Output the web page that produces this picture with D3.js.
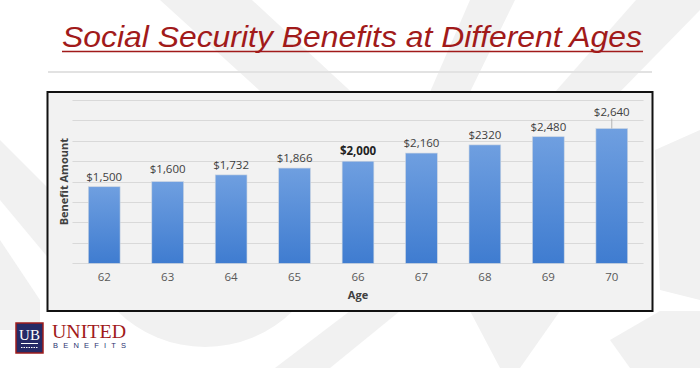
<!DOCTYPE html>
<html><head><meta charset="utf-8">
<script src="https://cdn.jsdelivr.net/npm/d3@7"></script>
<style>
html,body{margin:0;padding:0;background:#fff;}
svg{display:block;}
</style></head>
<body>
<svg id="c" width="700" height="368"></svg>
<script>
const titleText = "Social Security Benefits at Different Ages";
const ages = ["62","63","64","65","66","67","68","69","70"];
const benefits = [1500, 1600, 1732, 1866, 2000, 2160, 2320, 2480, 2640];
const benefitLabels = ["$1,500","$1,600","$1,732","$1,866","$2,000","$2,160","$2320","$2,480","$2,640"];
const highlighted = ["66"];
const yTicks = [0, 400, 800, 1200, 1600, 2000, 2400, 2800, 3200];
const xTitle = "Age";
const yTitle = "Benefit Amount";

const svg = d3.select("#c");
const defs = svg.append("defs");
const grad = defs.append("linearGradient").attr("id","barG").attr("x1",0).attr("y1",0).attr("x2",0).attr("y2",1);
grad.append("stop").attr("offset","0%").attr("stop-color","#6f9fe0");
grad.append("stop").attr("offset","100%").attr("stop-color","#3f7cd0");

// watermark shapes
const wm = svg.append("g").attr("fill","#f1f1f1");
const shapes = [
  [[160,0],[252,0],[360,100],[270,100]],
  [[636,0],[700,0],[700,10],[612,100],[548,100]],
  [[470,0],[515,0],[470,92],[430,92]],
  [[0,140],[0,200],[50,260],[50,190]],
  [[0,240],[40,300],[40,330],[0,330]],
  [[655,150],[700,130],[700,300],[660,290]],
  [[470,311],[560,311],[520,368],[500,368]],
  [[275,368],[350,311],[400,311],[330,368]],
  [[610,340],[660,311],[700,311],[700,368],[630,368]]
];
wm.selectAll("polygon").data(shapes).join("polygon")
  .attr("points", d => d.map(p => p.join(",")).join(" "));
wm.append("path").attr("d", d3.arc()({innerRadius:0, outerRadius:125, startAngle:Math.PI/2, endAngle:Math.PI*1.5}))
  .attr("transform","translate(205,222)");

// title
svg.append("text").attr("x",62).attr("y",47).attr("textLength",580).attr("lengthAdjust","spacingAndGlyphs")
  .attr("font-family","Liberation Sans, Arial, sans-serif").attr("font-style","italic")
  .attr("font-size",29).attr("fill","#a11a1a").text(titleText);
svg.append("line").attr("x1",62).attr("x2",643).attr("y1",51.5).attr("y2",51.5)
  .attr("stroke","#a11a1a").attr("stroke-width",1.6);
svg.append("line").attr("x1",48).attr("x2",652).attr("y1",72).attr("y2",72)
  .attr("stroke","#e2e2e2").attr("stroke-width",2);

// chart box
svg.append("rect").attr("x",47.5).attr("y",92).attr("width",605).attr("height",219)
  .attr("fill","#f2f2f2").attr("stroke","#111").attr("stroke-width",2);

const x = d3.scaleBand().domain(ages).range([72.5, 643.5]).paddingInner(0.5).paddingOuter(0.25);
const y = d3.scaleLinear().domain([0, 3200]).range([263.3, 100]);

// grid
svg.append("g").selectAll("line").data(yTicks).join("line")
  .attr("x1",72.5).attr("x2",643.5)
  .attr("y1", d => Math.round(y(d))+0.5).attr("y2", d => Math.round(y(d))+0.5)
  .attr("stroke","#d9d9d9").attr("stroke-width",1);

// bars
svg.append("g").selectAll("rect").data(ages).join("rect")
  .attr("x", d => x(d)).attr("width", x.bandwidth())
  .attr("y", (d,i) => y(benefits[i])).attr("height", (d,i) => y(0) - y(benefits[i]))
  .attr("fill","url(#barG)").attr("stroke","#c9d3e0").attr("stroke-width",0.6);

// labels
const lastIdx = ages.length - 1;
const lab = svg.append("g").attr("font-family","Open Sans, sans-serif").attr("font-size",11.5).attr("text-anchor","middle");
lab.selectAll("text").data(ages).join("text")
  .attr("x", d => x(d) + x.bandwidth()/2)
  .attr("y", (d,i) => y(benefits[i]) - (i === lastIdx ? 13 : (i === 1 ? 9 : 6)))
  .attr("font-weight", d => highlighted.includes(d) ? "bold" : "normal")
  .attr("fill", d => highlighted.includes(d) ? "#222" : "#404040")
  .text((d,i) => benefitLabels[i]);
// leader line for last label
svg.append("line")
  .attr("x1", x(ages[lastIdx]) + x.bandwidth()/2).attr("x2", x(ages[lastIdx]) + x.bandwidth()/2)
  .attr("y1", y(benefits[lastIdx]) - 10).attr("y2", y(benefits[lastIdx]))
  .attr("stroke","#a6a6a6").attr("stroke-width",0.8);

// x axis
const xa = svg.append("g").attr("transform","translate(0,263.3)")
  .call(d3.axisBottom(x).tickSize(0).tickPadding(10));
xa.select(".domain").remove();
xa.selectAll("text").attr("font-family","Open Sans, sans-serif").attr("font-size",11.5).attr("fill","#595959");

svg.append("text").attr("x",358).attr("y",299).attr("text-anchor","middle")
  .attr("font-family","Open Sans, sans-serif").attr("font-size",11).attr("font-weight","bold")
  .attr("fill","#404040").text(xTitle);
svg.append("text").attr("transform","translate(68,181.7) rotate(-90)").attr("text-anchor","middle")
  .attr("font-family","Open Sans, sans-serif").attr("font-size",11).attr("font-weight","bold")
  .attr("fill","#404040").text(yTitle);

// logo
const logo = svg.append("g");
logo.append("rect").attr("x",16).attr("y",323).attr("width",27).attr("height",30)
  .attr("fill","#262a66").attr("stroke","#9e1c1c").attr("stroke-width",1.5);
logo.append("text").attr("x",29.5).attr("y",340).attr("text-anchor","middle")
  .attr("font-family","Liberation Serif, serif").attr("font-size",15).attr("fill","#fff").text("UB");
logo.append("line").attr("x1",21).attr("x2",38).attr("y1",343.5).attr("y2",343.5).attr("stroke","#fff").attr("stroke-width",1);
logo.append("line").attr("x1",21).attr("x2",38).attr("y1",347.5).attr("y2",347.5).attr("stroke","#fff").attr("stroke-width",1.2).attr("stroke-dasharray","1.5,1");
logo.append("text").attr("x",52).attr("y",338).attr("textLength",74).attr("lengthAdjust","spacingAndGlyphs")
  .attr("font-family","Liberation Serif, serif").attr("font-size",19).attr("fill","#a11a1a").text("UNITED");
logo.append("text").attr("x",53).attr("y",348).attr("textLength",73).attr("lengthAdjust","spacing")
  .attr("font-family","Liberation Sans, sans-serif").attr("font-size",7.5).attr("fill","#2b3270").text("BENEFITS");
</script>
</body></html>
